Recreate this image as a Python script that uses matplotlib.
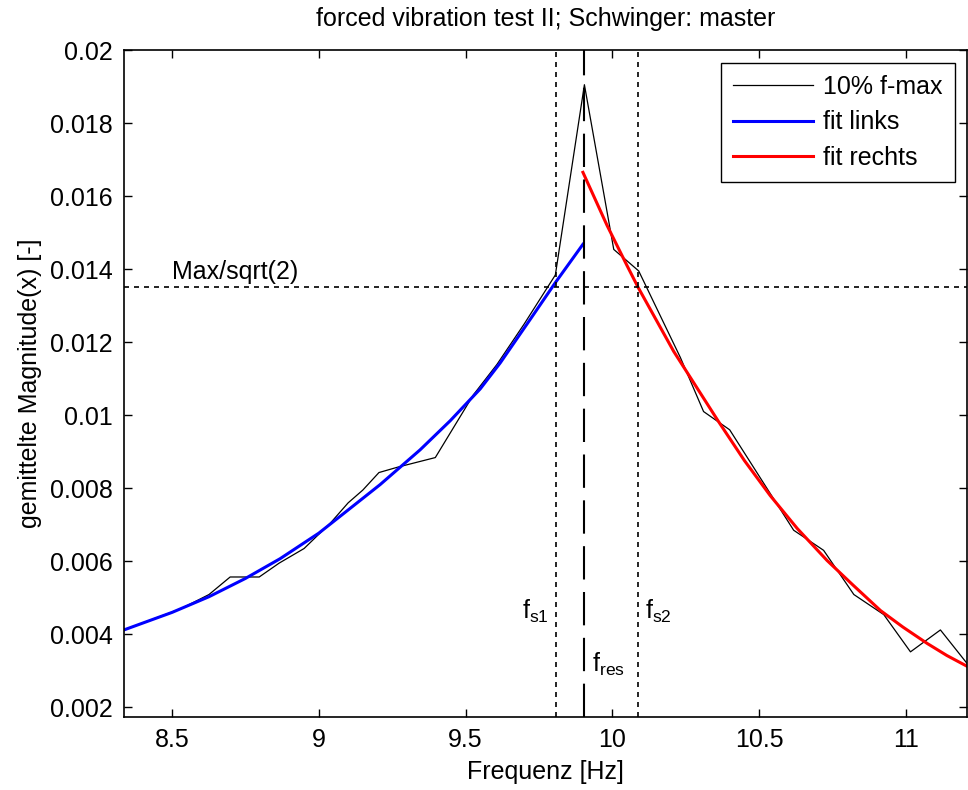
import numpy as np
import matplotlib
matplotlib.use("Agg")
import matplotlib.pyplot as plt
from matplotlib.ticker import FormatStrFormatter

# measured spectrum (10% f-max)
freq_meas = [8.336, 8.43, 8.53, 8.626, 8.698, 8.797, 8.865, 8.95, 9.04, 9.10,
             9.15, 9.205, 9.27, 9.397, 9.527, 9.607, 9.70, 9.806, 9.905, 10.005,
             10.09, 10.232, 10.311, 10.40, 10.522, 10.618, 10.72, 10.823, 10.925,
             11.016, 11.118, 11.21]
mag_meas = [0.00412, 0.00440, 0.00470, 0.00509, 0.00557, 0.00557, 0.00595, 0.00635,
            0.00705, 0.00760, 0.00795, 0.00843, 0.00858, 0.00884, 0.01056, 0.01139,
            0.01250, 0.01384, 0.01905, 0.01454, 0.01395, 0.01158, 0.01010, 0.00960,
            0.00806, 0.00685, 0.00630, 0.00509, 0.00454, 0.00352, 0.00412, 0.00319]

# fit left of resonance
freq_left = [8.336, 8.5, 8.626, 8.75, 8.868, 9.0, 9.107, 9.209, 9.345, 9.448,
             9.55, 9.618, 9.72, 9.806, 9.9]
mag_left = [0.00412, 0.00460, 0.00503, 0.00553, 0.00607, 0.00677, 0.00745, 0.00810,
            0.00905, 0.00985, 0.01072, 0.01143, 0.01262, 0.01363, 0.01468]

# fit right of resonance
freq_right = [9.9, 9.982, 10.05, 10.088, 10.209, 10.36, 10.45, 10.538, 10.63,
              10.732, 10.82, 10.914, 10.99, 11.073, 11.14, 11.21]
mag_right = [0.01665, 0.01520, 0.01410, 0.01350, 0.01175, 0.00985, 0.00876, 0.00780,
             0.00690, 0.00602, 0.00535, 0.00465, 0.00420, 0.00375, 0.00342, 0.00312]

mag_max = 0.01909
f_s1 = 9.808
f_res = 9.905
f_s2 = 10.088

plt.rcParams['font.family'] = ['Liberation Sans', 'DejaVu Sans']
plt.rcParams['font.size'] = 18

fig = plt.figure(figsize=(9.68, 7.9), dpi=100)
ax = fig.add_axes([0.128, 0.0924, 0.8714, 0.8443])

ax.plot(freq_meas, mag_meas, color='black', lw=0.9, label='10% f-max')
ax.plot(freq_left, mag_left, color='#0000ff', lw=2.2, label='fit links')
ax.plot(freq_right, mag_right, color='#ff0000', lw=2.2, label='fit rechts')

# reference lines
ax.axhline(mag_max / np.sqrt(2), color='black', lw=1.2, linestyle=(0, (3, 3)))
ax.axvline(f_s1, color='black', lw=1.2, linestyle=(0, (3, 3)))
ax.axvline(f_s2, color='black', lw=1.2, linestyle=(0, (3, 3)))
ax.axvline(f_res, color='black', lw=1.5, linestyle=(0, (16, 6)))

ax.text(8.5, mag_max / np.sqrt(2) + 0.0001, 'Max/sqrt(2)', ha='left', va='bottom')
ax.text(f_s1 - 0.025, 0.00464, r'$\mathregular{f_{s1}}$', ha='right', va='center')
ax.text(f_s2 + 0.025, 0.00464, r'$\mathregular{f_{s2}}$', ha='left', va='center')
ax.text(f_res + 0.025, 0.00319, r'$\mathregular{f_{res}}$', ha='left', va='center')

ax.set_xlim(8.336, 11.21)
ax.set_ylim(0.001736, 0.02)
ax.set_xticks([8.5, 9, 9.5, 10, 10.5, 11])
ax.set_yticks(np.arange(1, 11) * 0.002)
ax.xaxis.set_major_formatter(FormatStrFormatter('%g'))
ax.yaxis.set_major_formatter(FormatStrFormatter('%g'))
ax.tick_params(direction='in', length=6, width=1, top=True, right=True, pad=8)
for s in ax.spines.values():
    s.set_linewidth(1.2)

ax.set_xlabel('Frequenz [Hz]', labelpad=6)
ax.set_ylabel('gemittelte Magnitude(x) [-]', labelpad=6)
ax.set_title('forced vibration test II; Schwinger: master', fontsize=18, pad=17)

leg = ax.legend(loc='upper right', fancybox=False, framealpha=1, edgecolor='black',
                handlelength=3.2, handletextpad=0.38, labelspacing=0.45,
                borderpad=0.5, borderaxespad=0.5)
leg.get_frame().set_linewidth(1.0)

fig.savefig('out.png', dpi=100)
